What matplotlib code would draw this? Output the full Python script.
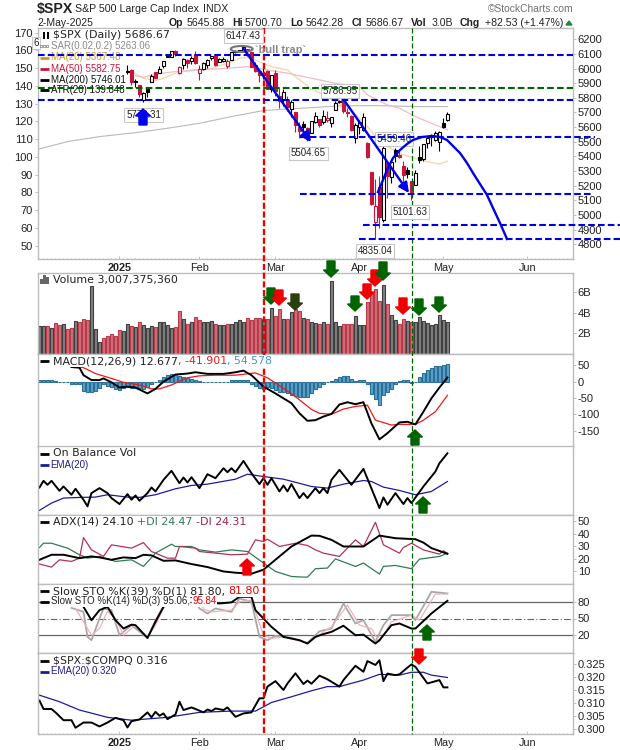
import matplotlib
matplotlib.use("Agg")
import matplotlib.pyplot as plt
from matplotlib.patches import Polygon, Ellipse, FancyArrowPatch

# ---------- price (candles start where the legend stops hiding them) ----------
candle_start = 22
opens = [5982,5993,5910,5890,5782,5859,5905,5977,5969,6014,6081,6077,6121,5969,6026,6058,6050,6096,
         5969,5999,6021,6073,6083,6046,6049,6019,6061,6115,6121,6117,6134,6114,6026,5982,5971,5981,5857,
         5969,5811,5782,5785,5726,5705,5603,5624,5594,5563,5635,5655,5632,5646,5630,5718,5772,5781,5701,5679,5527,
         5598,5581,5492,5292,4953,5193,4966,5354,5256,5441,5411,5335,5306,5232,5207,5395,5381,5489,5529,5509,5500,
         5626,5646]
highs = [6021,6000,5927,5890,5842,5871,5960,5977,6014,6051,6100,6119,6128,6017,6074,6063,6086,6120,
         6023,6042,6062,6084,6101,6074,6076,6063,6116,6127,6130,6147,6134,6114,6044,5992,6009,5993,5959,
         5987,5866,5861,5812,5783,5705,5636,5642,5598,5645,5704,5655,5715,5711,5670,5775,5787,5785,5733,5686,5627,
         5650,5696,5500,5292,5247,5267,5482,5354,5369,5460,5450,5368,5329,5232,5309,5470,5486,5528,5554,5572,5571,
         5659,5701]
lows = [5960,5890,5874,5809,5773,5805,5905,5938,5969,6007,6076,6076,6089,5962,5994,6002,6028,6030,
        5923,5990,6007,6061,6020,6044,6043,6003,6060,6107,6110,6112,6084,6009,5977,5908,5932,5858,5837,
        5810,5733,5742,5711,5667,5565,5528,5546,5505,5563,5628,5598,5622,5632,5603,5718,5763,5695,5671,5572,5489,
        5550,5571,5390,5070,4835,4910,4949,5115,5221,5359,5387,5220,5255,5102,5207,5357,5371,5455,5468,5506,5434,
        5597,5642]
closes = [5975,5909,5918,5827,5836,5843,5950,5937,5997,6049,6086,6119,6101,6012,6068,6039,6071,6041,
          5995,6038,6061,6084,6026,6066,6068,6052,6115,6115,6130,6144,6118,6013,5983,5955,5956,5862,5955,
          5850,5778,5843,5739,5770,5615,5572,5599,5522,5639,5675,5615,5675,5663,5668,5768,5777,5712,5693,5581,5612,
          5633,5671,5397,5074,5062,4983,5457,5268,5363,5406,5397,5276,5283,5158,5288,5376,5485,5525,5529,5561,5569,
          5604,5687]
prev_close_first = 5942

ma20_j = [22,24,26,29,31,34,37,40,43,47,50,52,55,58,62,64,68,71,74,78,82,85,90,93,97,100,102]
ma20 = [5985,5965,5934,5918,5934,5968,5986,5995,6002,6036,6070,6077,6047,6013,5990,5945,5860,5820,5774,5717,5603,5501,5421,5394,5364,5348,5367]
ma50_j = [24,26,29,34,40,47,52,57,62,68,74,80,82,87,90,94,99,102]
ma50 = [5950,5940,5963,5979,5990,6002,6013,5990,5968,5934,5899,5877,5820,5751,5729,5672,5615,5582]
ma200_j = [0,7,15,24,32,40,48,56,62,68,75,84,95,102]
ma200 = [5451,5501,5535,5562,5592,5626,5672,5713,5724,5733,5745,5747,5740,5740]

# ---------- volume (billions) ----------
volume = [2.68,2.68,2.68,2.48,2.97,2.81,2.87,2.42,2.48,3.16,3.06,3.35,3.26,6.58,2.39,1.13,1.52,1.77,1.90,1.77,
          2.29,2.19,2.87,2.68,2.61,3.06,2.81,2.48,2.74,2.58,3.06,3.06,2.81,2.48,2.58,4.16,3.35,2.87,3.06,3.55,
          3.26,3.06,3.13,3.16,2.87,2.77,2.77,2.87,2.94,3.06,3.26,3.06,3.45,3.26,3.45,3.45,3.35,3.35,4.42,3.68,
          4.32,3.35,3.35,4.03,4.32,4.13,3.45,3.35,3.06,2.97,2.87,3.06,2.87,7.06,3.06,2.68,2.87,2.87,2.87,3.65,
          2.77,2.77,5.0,5.9,6.29,5.1,6.68,4.81,3.74,3.26,2.87,3.35,3.16,3.06,3.06,3.55,3.16,2.97,2.77,2.87,3.74,3.26,3.06]
early_down = [0,0,1,0,1,1,0,1,1,0,1,1,1,0,0,0,1,1,1,1,1,0]

# ---------- MACD ----------
macd_j = [8,10,11,13,15,16,18,20,22,24,27,29,31,34,37,39,42,46,49,51,53,56,59,63,65,67,69,71,73,75,77,79,81,83,85,87,90,92,94,96,98,100,102]
macd = [45,43,20,5,5,10,-2,-18,-15,-18,-36,-22,0,22,25,29,24,24,29,34,20,-15,-36,-66,-97,-120,-118,-107,-99,-70,-63,-69,-63,-128,-177,-158,-125,-123,-131,-92,-51,-18,12.7]
signal_j = [8,11,14,18,21,25,28,30,33,37,40,44,49,54,57,61,64,68,70,73,76,79,82,84,88,90,94,96,99,102]
signal = [48,43,25,10,-2,-10,-22,-22,-10,12,18,20,20,27,12,-20,-46,-85,-97,-100,-84,-76,-72,-118,-133,-131,-131,-118,-92,-41.9]
macd_hist = [4,4,4,4,2,-2,-2,-2,-8,-8,-8,-28,-31,-31,-29,-20,-8,-12,-16,-22,-24,-20,-15,-18,-18,-20,-22,-15,-8,-2,
             5,13,20,25,25,18,15,10,8,5,2,-1,-1,-1,-1,-1,-1,-1,4,4,4,4,4,-6,-14,-18,-22,-15,-20,-26,
             -31,-33,-36,-41,-44,-46,-46,-46,-36,-23,-15,-8,-1,2,8,14,16,16,7,3,4,6,-8,-39,-53,-70,-41,-33,-22,-8,
             3,4,4,-3,0,13,28,37,43,48,48,50,54.6]

# ---------- On Balance Volume (relative scale, no axis labels on the chart) ----------
obv_j = [0,1,2,3,5,6,8,9,11,12,13,15,17,18,20,22,23,24,25,27,28,29,31,33,35,36,37,38,40,42,44,46,47,48,49,51,53,55,56,57,58,60,61,62,63,65,66,67,69,70,71,72,73,75,78,81,85,86,87,89,91,92,93,96,99,100,102]
obv = [83,103,91,103,73,86,61,79,46,26,66,81,66,51,33,63,46,59,43,66,83,71,106,133,96,113,98,114,81,123,111,141,129,141,129,163,126,93,111,91,111,71,89,71,93,51,66,51,81,66,81,66,106,136,91,139,21,53,31,66,33,51,36,86,131,156,186]
obv_ema_j = [0,3,6,10,14,17,22,25,29,34,38,42,49,52,56,61,68,72,76,81,83,86,90,94,98,102]
obv_ema = [14,36,51,53,54,61,54,53,61,79,89,93,108,123,116,108,86,81,93,104,101,84,74,61,71,101]

# ---------- ADX ----------
adx_j = [0,3,6,10,13,15,18,21,24,26,28,31,34,38,42,46,49,53,56,60,63,68,70,73,76,81,85,89,94,96,98,102]
adx = [19.3,23.3,23.3,20.6,22,21.2,19.3,21.2,20.6,23.3,22.8,18.5,18.8,15.9,13.5,10,9,8.2,11.4,22,29.9,38.6,38.4,35.2,29.9,29.9,38.6,36.5,35.7,33,28.6,24.1]
pdi_j = [0,1,3,7,10,12,15,19,23,26,29,33,34,38,40,44,48,52,56,59,63,66,67,69,72,74,79,81,85,86,89,93,95,100,102]
pdi = [29.1,32.5,32.5,28.6,23.3,20.6,22,18,19.3,14,24.6,31.7,29.9,29.9,27.2,25.4,27.2,25.9,16.7,10,6,5.5,5.5,12.2,12.7,20,14,16.7,7.9,14,14.8,12.2,19.8,22,24.5]
mdi_j = [0,3,5,8,10,11,13,16,18,23,26,28,32,34,35,39,40,44,48,52,54,56,57,60,64,65,67,69,71,75,79,81,84,86,90,91,93,96,100,101,102]
mdi = [15.9,13.5,19.3,18,20.6,37,27.2,22,31.2,28.6,33,25.9,20.6,20.6,29.9,28.6,25.9,24.6,23.3,23.8,35.2,33.9,35.7,29.9,32.5,32,30.7,27.2,24.6,22,35.2,29.9,49.2,31.2,24.6,29.1,32.5,27.2,23.8,26.5,24.3]

# ---------- Slow stochastics ----------
k39_j = [11,13,15,17,19,21,23,24,27,29,31,33,37,41,45,48,50,53,54,56,58,61,63,65,67,69,71,73,76,79,81,84,85,88,90,93,94,98,102]
k39 = [71,47,65,71,47,32,39,38,15,44,71,86,92,80,77,79,89,89,65,50,35,17,14,11,5,17,22,26,37,20,21,5,11,38,41,32,32,59,81.8]
k14_j = [8,11,12,13,15,16,18,20,23,27,29,31,33,39,40,42,44,48,50,53,55,57,59,63,67,70,73,76,79,81,84,86,88,93,94,98,102]
k14 = [69,62,17,11,50,68,65,20,38,15,47,71,92,89,68,59,68,62,86,80,17,11,19,15,6,27,32,77,41,47,8,38,56,56,47,98,95]
d3_j = [9,11,13,15,17,19,21,24,27,29,31,33,40,41,43,48,50,53,56,58,61,67,71,73,77,80,83,85,88,93,95,99,102]
d3 = [68,44,20,32,63,50,20,38,17,38,68,89,89,67,62,65,80,83,20,14,17,6,26,35,74,38,32,8,44,56,47,94,94]

# ---------- $SPX:$COMPQ ----------
ratio_j = [0,1,3,4,6,8,9,11,13,15,17,19,21,22,23,25,27,28,29,30,31,32,34,35,36,38,39,41,42,43,44,46,47,49,51,53,55,56,57,59,61,62,64,66,67,68,70,72,75,76,79,81,82,84,85,86,87,89,90,92,93,94,97,100,101,102]
ratio = [.3108,.3076,.3076,.3063,.3033,.3033,.3004,.3024,.3024,.3009,.3024,.3042,.3033,.3005,.3029,.3036,.3063,.3044,.3065,.3050,.3059,.3037,.3055,.3104,.3072,.3082,.3076,.3063,.3074,.3068,.3078,.3072,.3082,.3046,.3059,.3063,.3117,.3117,.3162,.3183,.3149,.3174,.3213,.3172,.3185,.3173,.3204,.3190,.3162,.3187,.3242,.3219,.3260,.3245,.3263,.3183,.3212,.3206,.3209,.3235,.3247,.3238,.3174,.3187,.3159,.3159]
ratio_ema_j = [0,5,10,17,23,32,40,48,54,58,63,68,72,75,81,85,90,93,96,98,102]
ratio_ema = [.3129,.3104,.3072,.3044,.3033,.3044,.3063,.3068,.3068,.3101,.3123,.3146,.3162,.3162,.3187,.3209,.3206,.3217,.3217,.3206,.3197]

# ---------- axis labels ----------
month_pos = [20,40,59,80,101,122]
month_labels = ["2025","Feb","Mar","Apr","May","Jun"]
price_ticks = [4800,4900,5000,5100,5200,5300,5400,5500,5600,5700,5800,5900,6000,6100,6200]
atr_ticks = [50,60,70,80,90,100,110,120,130,140,150,160,170]
support_levels = [6095,5787,5533,5145,4932,4834]
support_x0 = [38,38,300,300,363,359]
support_x1 = [573,573,595,593,620,620]
green_level = 5867

FONT = "Liberation Sans"
WIDE = "DejaVu Sans"
RED = "#c8143c"
GRID = "#bcbcbc"
W, H = 620, 750
plt.rcParams["font.family"] = FONT
fig = plt.figure(figsize=(6.2, 7.5), dpi=100)

def panel(top, bottom, ylim):
    ax = fig.add_axes([37.5/W, 1-bottom/H, (573-37.5)/W, (bottom-top)/H])
    ax.set_xlim(-0.5, 133.4)
    ax.set_ylim(*ylim)
    for s in ax.spines.values():
        s.set_color(GRID); s.set_linewidth(1.0)
    ax.yaxis.tick_right()
    ax.tick_params(axis="y", which="both", labelcolor="#222222", color=GRID, length=2, width=0.7, labelsize=8.0, pad=1.5)
    ax.set_xticks([])
    return ax

def month_axis(ax):
    ax.set_xticks(month_pos)
    ax.set_xticklabels(month_labels, fontsize=7.8, color="#222222")
    ax.get_xticklabels()[0].set_fontweight("bold")
    ax.set_xticks(range(0, 134), minor=True)
    ax.tick_params(axis="x", which="major", direction="in", length=2.5, width=0.6, color=GRID, pad=3)
    ax.tick_params(axis="x", which="minor", direction="in", length=1, width=0.6, color=GRID)

# --- main panel
ax_main = panel(28, 259, (4699, 6277))
month_axis(ax_main)
ax_main.set_yticks(price_ticks)
ax_atr = ax_main.twinx()
ax_atr.set_ylim(42.5, 172.6)
ax_atr.set_yticks(atr_ticks)
ax_atr.yaxis.tick_left()
ax_main.yaxis.tick_right()
ax_atr.tick_params(axis="y", length=2, width=0.7, labelsize=8.0, pad=1.5, color=GRID, labelcolor="#222222")
for s in ax_atr.spines.values():
    s.set_visible(False)

ax_main.plot(ma200_j, ma200, color="#b9b9b9", lw=0.8, zorder=1)
ax_main.plot(ma20_j, ma20, color="#f0d6ab", lw=0.9, zorder=1)
ax_main.plot(ma50_j, ma50, color="#f0bcc4", lw=0.9, zorder=1)

prev = prev_close_first
for n, (o, h, l, c) in enumerate(zip(opens, highs, lows, closes)):
    j = candle_start + n
    col = RED if c < prev else "black"
    ax_main.vlines(j, l, h, color=col, lw=0.8, zorder=2)
    body = abs(c - o) if abs(c - o) > 3 else 3
    ax_main.bar(j, body, bottom=min(o, c), width=0.6, facecolor=(col if c < o else "white"),
                edgecolor=col, linewidth=0.8, zorder=3)
    prev = c

# --- volume
ax_vol = panel(273, 354, (0, 7.83))
down = list(early_down)
prev = prev_close_first
for c in closes:
    down.append(1 if c < prev else 0)
    prev = c
for j, v in enumerate(volume):
    ax_vol.bar(j, v, width=0.82, facecolor="#cf6f78" if down[j] else "#808080",
               edgecolor="#b83a4b" if down[j] else "#3f3f3f", linewidth=0.8)
ax_vol.set_yticks([2, 4, 6]); ax_vol.set_yticklabels(["2B", "4B", "6B"])

# --- MACD
ax_macd = panel(354, 447, (-200.4, 85))
ax_macd.bar(range(len(macd_hist)), macd_hist, width=0.9, facecolor="#5aa2cc", edgecolor="#2b6f96", linewidth=0.8, zorder=1)
ax_macd.plot(signal_j, signal, color="#f01818", lw=0.9, zorder=2)
ax_macd.plot(macd_j, macd, color="black", lw=1.4, zorder=3)
ax_macd.set_yticks([50, 0, -50, -100, -150])
ax_macd.set_yticklabels(["50", "0", "-50", "-100", "-150"])

# --- OBV
ax_obv = panel(446, 515, (0, 208))
ax_obv.plot(obv_ema_j, obv_ema, color="#1c1ca0", lw=0.9)
ax_obv.plot(obv_j, obv, color="black", lw=1.4)
ax_obv.set_yticks([])

# --- ADX
ax_adx = panel(515, 584, (0, 55))
ax_adx.plot(pdi_j, pdi, color="#2e7d52", lw=0.9)
ax_adx.plot(mdi_j, mdi, color="#b5305e", lw=0.9)
ax_adx.plot(adx_j, adx, color="black", lw=1.4)
ax_adx.set_yticks([10, 20, 30, 40, 50])

# --- Stochastics
ax_sto = panel(584, 653, (-12, 112))
ax_sto.axhline(80, color="#666666", lw=0.9)
ax_sto.axhline(20, color="#666666", lw=0.9)
ax_sto.axhline(50, color="#666666", lw=0.8, ls=(0, (6, 2, 1, 2)))
ax_sto.plot(k14_j, k14, color="#a8a8a8", lw=1.3)
ax_sto.plot(d3_j, d3, color="#f2b1b5", lw=0.9)
ax_sto.plot(k39_j, k39, color="black", lw=1.4)
ax_sto.set_yticks([20, 50, 80])

# --- ratio
ax_rat = panel(653, 734, (0.2980, 0.3291))
ax_rat.plot(ratio_ema_j, ratio_ema, color="#1c1ca0", lw=0.9)
ax_rat.plot(ratio_j, ratio, color="black", lw=1.4)
ax_rat.set_yticks([.300, .305, .310, .315, .320, .325])
ax_rat.set_yticklabels(["0.300", "0.305", "0.310", "0.315", "0.320", "0.325"])
month_axis(ax_rat)

# ---------- overlay in figure pixels: annotations, legends, title ----------
ov = fig.add_axes([0, 0, 1, 1], zorder=20)
ov.set_xlim(0, W); ov.set_ylim(H, 0); ov.axis("off")
renderer = fig.canvas.get_renderer()

def px_x(j):
    return 39.5 + 4 * j
def px_y(p):
    return 39.3 + (6200 - p) * 0.1464

def rich(x, y, parts, size=8.0, family=WIDE, bbox=True, z=5):
    for item in parts:
        s, c = item[0], item[1]
        stripped = s.rstrip(" ")
        t = ov.text(x, y, stripped, color=c, fontsize=size, family=family, va="center", ha="left", zorder=z,
                    parse_math=False, bbox=dict(fc="white", ec="none", pad=0.4) if bbox else None)
        x += t.get_window_extent(renderer).width + (len(s) - len(stripped)) * size * 0.42

def key(y, col, x0=40, x1=48.5, lw=2):
    ov.plot([x0, x1], [y, y], color=col, lw=lw, zorder=6, solid_capstyle="butt")

# title
ov.text(37, 9.5, "$SPX", fontsize=10.2, fontweight="bold", va="center", color="#222222", parse_math=False)
ov.text(75, 9.5, "S&P 500 Large Cap Index", fontsize=7.7, va="center", color="#222222")
ov.text(203, 9.5, "INDX", fontsize=7.6, va="center", color="#222222")
ov.text(573, 9, "\u00a9StockCharts.com", fontsize=7.4, ha="right", va="center", color="#707070")
ov.text(37, 22.5, "2-May-2025", fontsize=7.5, va="center", color="#222222")
hdr = [(169, "Op", 1), (187, "5645.88", 0), (232, "Hi", 1), (245, "5700.70", 0), (290, "Lo", 1), (306, "5642.28", 0),
       (352, "Cl", 1), (366, "5686.67", 0), (411, "Vol", 1), (432, "3.0B", 0), (460, "Chg", 1), (485, "+82.53 (+1.47%)", 0)]
for x, s, b in hdr:
    ov.text(x, 22.5, s, fontsize=7.6, va="center", fontweight="bold" if b else "normal", color="#222222")
ov.add_patch(Polygon([(566, 25), (572, 25), (569, 21)], color="#1f8a3a", zorder=6))

# price-panel legend
rich(53, 35, [("$SPX (Daily) 5686.67", "#222222")], size=7.9)
rich(50.7, 46, [("SAR(0.02,0.2) 5263.06", "#8a8a8a")], size=7.0, family=FONT)
rich(50.7, 57.5, [("MA(20) 5367.48", "#cf9a20")], size=7.0, family=FONT)
rich(50.7, 68.7, [("MA(50) 5582.75", "#c8143c")], size=7.0, family=FONT)
rich(50.7, 79.7, [("MA(200) 5746.01", "#111111")], size=7.0, family=FONT)
rich(50.7, 90, [("ATR(20) 139.848", "#111111")], size=7.0, family=FONT)
ov.plot([41, 44, 47], [46, 46, 46], ls="none", marker="s", ms=1.6, mfc="white", mec="#777777", mew=0.5, zorder=6)
for yy, c in [(57.5, "#cf9a20"), (68.7, "#c8143c"), (79.7, "black"), (90, "black")]:
    key(yy, c)
ov.vlines([44, 48], 32, 39, color="black", lw=1.4, zorder=6)
ov.text(33.5, 43, "6", fontsize=7, va="center", ha="left", color="#222222", zorder=4,
        bbox=dict(fc="white", ec="#c8c8c8", lw=0.7, pad=1.0))

# other panel legends
for xx, hh in [(41.5, 5), (44.5, 9), (47.5, 7)]:
    ov.bar(xx, -hh, bottom=284, width=2.3, color="#666666", zorder=6)
rich(53, 280.5, [("Volume 3,007,375,360", "#222222")], size=7.9)
key(361, "black")
rich(53, 361, [("MACD(12,26,9) 12.677", "#222222"), (", -41.901", "#f01818"), (", 54.578", "#4a94c4")], size=7.9)
key(453.5, "black")
rich(53, 453.5, [("On Balance Vol", "#222222")], size=7.9)
key(465, "#1c1c90")
rich(50.7, 465, [("EMA(20)", "#1c1c90")], size=7.0, family=FONT)
key(522, "black")
rich(53, 522, [("ADX(14) 24.10 ", "#222222"), ("+DI 24.47 ", "#2e7d52"), ("-DI 24.31", "#a02050")], size=7.9)
key(591, "black")
rich(53, 591, [("Slow STO %K(39) %D(1) 81.80, ", "#222222"), ("81.80", "#f00000")], size=7.9)
key(601.5, "black")
rich(50.7, 601.5, [("Slow STO %K(14) %D(3) 95.06, ", "#222222"), ("95.84", "#f00000")], size=7.0, family=FONT)
key(660.5, "black")
rich(53, 660.5, [("$SPX:$COMPQ 0.316", "#222222")], size=7.9)
key(671.5, "#1c1c90")
rich(50.7, 671.5, [("EMA(20) 0.320", "#1c1c90")], size=7.0, family=FONT)

# vertical event lines
ov.plot([px_x(56)] * 2, [28, 734], color="#f00000", lw=1.7, ls=(0, (2.6, 1.1)), zorder=3)
ov.plot([px_x(93)] * 2, [28, 734], color="#006400", lw=0.9, ls=(0, (4, 2)), zorder=3)

# support / resistance lines
for p, a, b in zip(support_levels, support_x0, support_x1):
    ov.plot([a, b], [px_y(p)] * 2, color="#0000e6", lw=1.5, ls=(0, (3.2, 1.5)), zorder=7, clip_on=False)
ov.plot([38, 573], [px_y(green_level)] * 2, color="#006400", lw=1.5, ls=(0, (3.2, 1.5)), zorder=7)

# value labels
labels = [("6147.43", px_x(51), 36), ("5773.31", px_x(26), 115), ("5504.65", px_x(67) + 1, 153.5),
          ("5786.95", 340, 91), ("5459.46", 394, 139), ("5101.63", 410, 212), ("4835.04", 375, 251)]
for s, x, y in labels:
    ov.text(x, y, s, fontsize=7.0, ha="center", va="center", color="#222222", zorder=6,
            bbox=dict(fc="white", ec="#c8c8c8", lw=0.8, pad=1.3))

# hand-drawn annotations
ov.add_patch(Ellipse((241.7, 49), 22, 6, fill=False, ec="#777777", lw=1.5, zorder=8))
ov.text(255, 50, "`bull trap`", fontsize=7.9, fontweight="bold", color="#8a8a8a", va="center", zorder=6)
for a, b in [((243, 48), (311, 142)), ((344, 100), (409, 193))]:
    ov.add_patch(FancyArrowPatch(a, b, arrowstyle="-|>", mutation_scale=15, color="#0000e6", lw=1.7,
                                 shrinkA=0, shrinkB=0, zorder=9))
arc_x = [378, 383, 387, 393, 400, 407, 413, 422, 432, 440, 447, 453, 460, 467, 473, 480, 487, 493, 500, 507]
arc_y = [192, 180, 170, 158, 150, 144, 140, 137, 136, 137, 140, 146, 153, 163, 173, 184, 195, 208, 223, 239]
ov.plot(arc_x, arc_y, color="#0000e6", lw=1.7, zorder=9)

def block_arrow(x, y0, y1, col, up=False, half=7.5, shaft=4, head=7):
    if up:
        pts = [(x, y0), (x + half, y0 + head), (x + shaft, y0 + head), (x + shaft, y1), (x - shaft, y1),
               (x - shaft, y0 + head), (x - half, y0 + head)]
    else:
        pts = [(x, y1), (x + half, y1 - head), (x + shaft, y1 - head), (x + shaft, y0), (x - shaft, y0),
               (x - shaft, y1 - head), (x - half, y1 - head)]
    ov.add_patch(Polygon(pts, closed=True, color=col, zorder=10, clip_on=False))

G, R, B, O = "#006400", "#f00000", "#0000f0", "#2a3f10"
for x, a, b, c in [(271, 288, 304, G), (279, 290, 305, R), (295, 294, 310, O), (331, 261, 277, G), (367, 284, 299, R),
                   (375, 270, 286, R), (383, 262, 280, G), (355, 296, 311, G), (403, 298, 314, R), (419, 299, 315, G),
                   (439, 297, 312, G), (419, 649, 664, R)]:
    block_arrow(x, a, b, c)
for x, a, b, c in [(143, 109, 125, B), (415, 430, 445, G), (423, 497, 513, G), (247, 559, 575, R), (427, 625, 640, G)]:
    block_arrow(x, a, b, c, up=True)

fig.savefig("out.png", dpi=100)
